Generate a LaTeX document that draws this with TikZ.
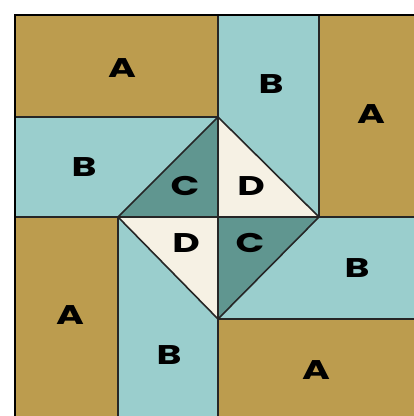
\documentclass[tikz,border=0pt]{standalone}
\usepackage{fontspec}
\newfontfamily\lblfont{Poppins}[BoldFont={* Bold}]
\definecolor{gold}{RGB}{188,156,78}
\definecolor{lteal}{RGB}{154,206,205}
\definecolor{dteal}{RGB}{96,150,144}
\definecolor{cream}{RGB}{246,241,228}
\tikzset{
  seam/.style={draw=black!85, line width=1.6pt},
  lbl/.style={font=\lblfont\bfseries\fontsize{27}{27}\selectfont, xscale=1.4, text=black, inner sep=0pt}
}
\begin{document}
\begin{tikzpicture}[x=1pt,y=-1pt]
\useasboundingbox (0,0) rectangle (414,416);
\fill[white] (0,0) rectangle (414,416);
% A patches
\fill[gold] (15,15) rectangle (218,117);
\fill[gold] (319,15) rectangle (414,217);
\fill[gold] (15,217) rectangle (118,416);
\fill[gold] (218,319) rectangle (414,416);
% B patches
\fill[lteal] (15,117) rectangle (218,217);
\fill[lteal] (218,15) rectangle (319,217);
\fill[lteal] (218,217) rectangle (414,319);
\fill[lteal] (118,217) rectangle (218,416);
% triangles
\fill[dteal] (118,217) -- (218,117) -- (218,217) -- cycle;
\fill[cream] (218,117) -- (319,217) -- (218,217) -- cycle;
\fill[cream] (118,217) -- (218,217) -- (218,319) -- cycle;
\fill[dteal] (218,217) -- (319,217) -- (218,319) -- cycle;
% seams
\draw[seam] (15,117) -- (218,117);
\draw[seam] (218,15) -- (218,416);
\draw[seam] (319,15) -- (319,217);
\draw[seam] (15,217) -- (414,217);
\draw[seam] (118,217) -- (118,416);
\draw[seam] (218,319) -- (414,319);
\draw[seam] (118,217) -- (218,117) -- (319,217) -- (218,319) -- cycle;
% outer border
\draw[black, line width=2.4pt] (15,416) -- (15,15) -- (414,15);
% labels
\node[lbl] (a1) at (122,68) {A};
\node[lbl] (b1) at (271,84) {B};
\node[lbl] (a2) at (371,114) {A};
\node[lbl] (b2) at (84,167) {B};
\node[lbl] (c1) at (185,186) {C};
\node[lbl] (d1) at (251,186) {D};
\node[lbl] (d2) at (186,243) {D};
\node[lbl] (c2) at (250,243) {C};
\node[lbl] (b3) at (357,268) {B};
\node[lbl] (a3) at (70,315) {A};
\node[lbl] (b4) at (169,355) {B};
\node[lbl] (a4) at (316,370) {A};
\end{tikzpicture}
\end{document}
